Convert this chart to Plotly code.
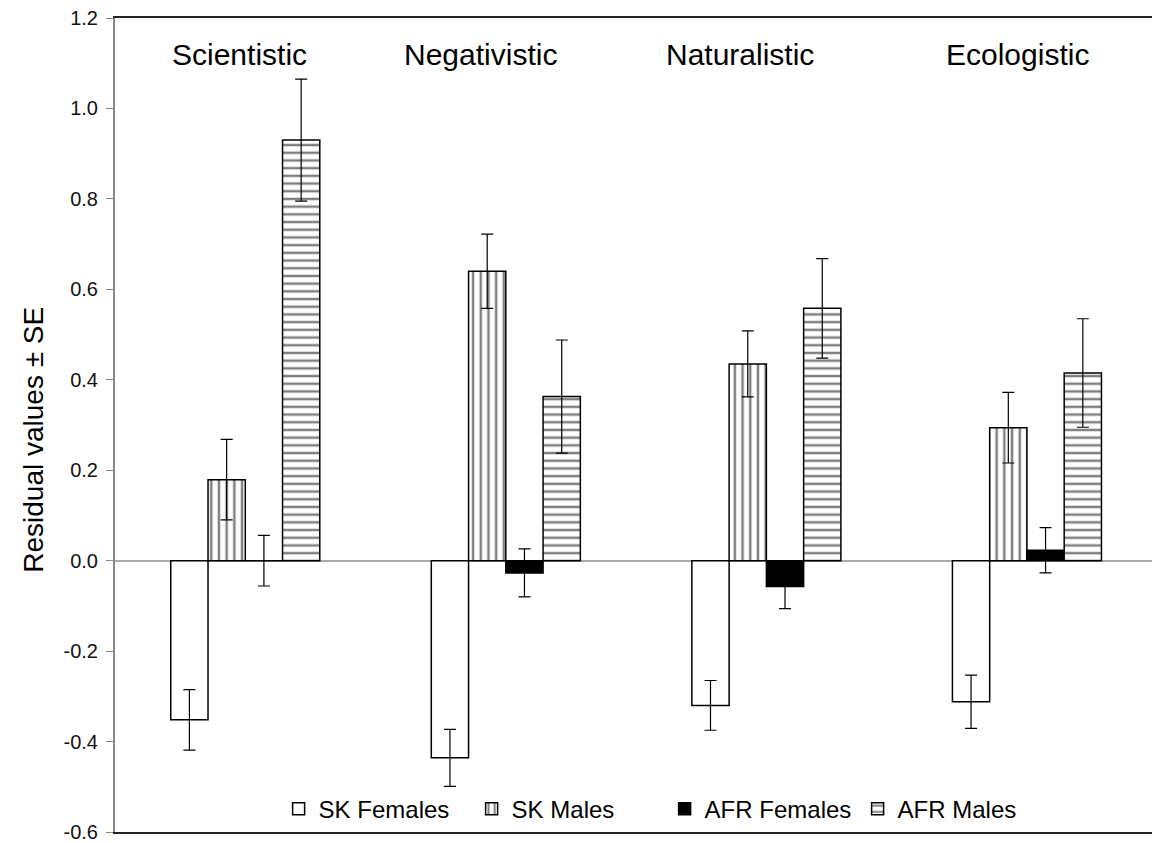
import plotly.graph_objects as go

categories = ["Scientistic", "Negativistic", "Naturalistic", "Ecologistic"]
series_names = ["SK Females", "SK Males", "AFR Females", "AFR Males"]

sk_females = [-0.352, -0.436, -0.320, -0.312]
sk_females_se = [0.067, 0.063, 0.055, 0.059]
sk_males = [0.179, 0.640, 0.435, 0.294]
sk_males_se = [0.089, 0.082, 0.073, 0.078]
afr_females = [0.0, -0.027, -0.057, 0.023]
afr_females_se = [0.056, 0.053, 0.049, 0.050]
afr_males = [0.930, 0.363, 0.558, 0.415]
afr_males_se = [0.135, 0.125, 0.110, 0.120]

y_ticks = [-0.6, -0.4, -0.2, 0.0, 0.2, 0.4, 0.6, 0.8, 1.0, 1.2]
y_tick_labels = [f"{v:.1f}" for v in y_ticks]
y_title = "Residual values ± SE"

FONT = "Arial, 'Liberation Sans', sans-serif"

styles = [
    dict(color="white", pattern=None),
    dict(color="white", pattern=dict(shape="|", fgcolor="black", bgcolor="white", size=7.7, solidity=0.32)),
    dict(color="black", pattern=None),
    dict(color="white", pattern=dict(shape="-", fgcolor="black", bgcolor="white", size=7.7, solidity=0.32)),
]
values = [sk_females, sk_males, afr_females, afr_males]
errors = [sk_females_se, sk_males_se, afr_females_se, afr_males_se]

fig = go.Figure()
for name, vals, errs, st in zip(series_names, values, errors, styles):
    marker = dict(color=st["color"], line=dict(color="black", width=1.5))
    if st["pattern"] is not None:
        marker["pattern"] = st["pattern"]
    fig.add_trace(go.Bar(
        x=categories, y=vals, name=name, marker=marker,
        error_y=dict(type="data", array=errs, visible=True, color="black", thickness=1.2, width=6),
    ))

# category headings (slightly left of group centres, as in the original)
label_shift = [-6, -25, -26, -9]
for cat, dx in zip(categories, label_shift):
    fig.add_annotation(x=cat, y=0.955, xref="x", yref="paper", yanchor="middle",
                       xanchor="center", xshift=dx,
                       text=cat, showarrow=False,
                       font=dict(family=FONT, size=30, color="black"))

fig.add_annotation(x=-0.078, y=0.482, xref="paper", yref="paper", textangle=-90,
                   xanchor="center", yanchor="middle", text=y_title, showarrow=False,
                   font=dict(family=FONT, size=28, color="black"))

fig.update_layout(
    width=1152, height=843,
    paper_bgcolor="white", plot_bgcolor="white",
    margin=dict(l=115, r=0, t=18, b=9),
    barmode="group", bargap=0.428, bargroupgap=0,
    font=dict(family=FONT, color="black"),
    showlegend=True,
    legend=dict(orientation="h", x=0.53, xanchor="center", y=0.028, yanchor="middle",
                font=dict(family=FONT, size=24, color="black"), bgcolor="rgba(0,0,0,0)",
                traceorder="normal", itemwidth=30, entrywidth=148, entrywidthmode="pixels"),
)
fig.update_xaxes(range=[-0.5, 3.48], showticklabels=False, ticks="", showgrid=False,
                 zeroline=False, showline=True, linecolor="#222222", linewidth=2, mirror=True)
fig.update_yaxes(range=[-0.6, 1.2], tickvals=y_ticks, ticktext=y_tick_labels,
                 ticks="outside", ticklen=7, tickcolor="#888888", tickwidth=1,
                 ticklabelstandoff=4, ticklabeloverflow="allow",
                 showgrid=False, showline=True, linecolor="#888888", linewidth=2,
                 zeroline=True, zerolinecolor="#aaaaaa", zerolinewidth=1.5,
                 tickfont=dict(family=FONT, size=20, color="#111111"))

fig.write_html("out.html", config={"displayModeBar": False},
               post_script="document.body.style.margin='0';document.body.style.overflow='hidden';")
